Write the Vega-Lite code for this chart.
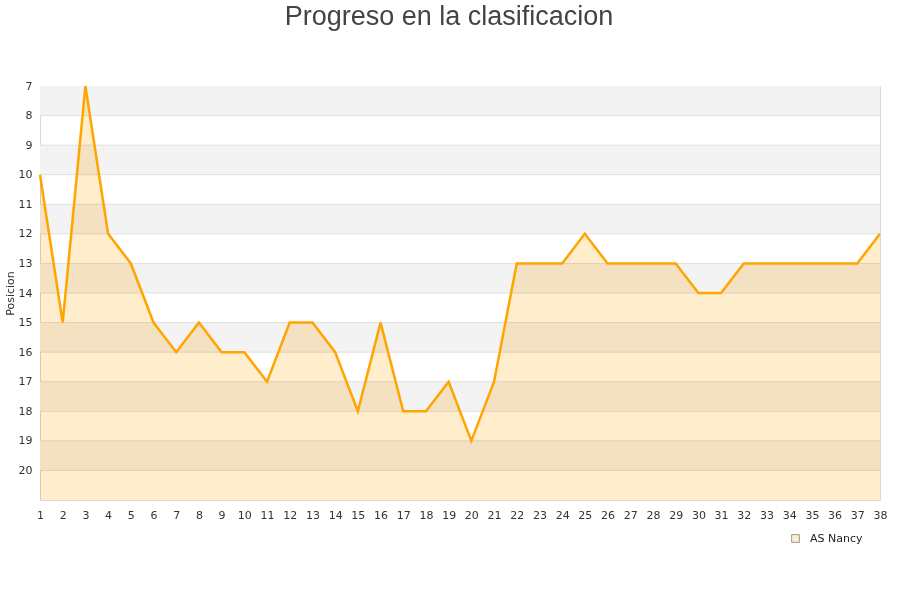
{
  "$schema": "https://vega.github.io/schema/vega-lite/v6.json",
  "width": 840,
  "height": 414,
  "autosize": "none",
  "padding": {"left": 40, "top": 86, "right": 20, "bottom": 100},
  "background": "white",
  "config": {
    "font": "DejaVu Sans",
    "view": {"stroke": "#d9d9d9", "strokeWidth": 1},
    "axis": {"labelColor": "#333333", "labelFontSize": 11, "titleColor": "#333333", "grid": false, "ticks": false, "domain": false, "labelOverlap": false, "labelFlush": false}
  },
  "title": {
    "text": "Progreso en la clasificacion",
    "font": "Liberation Sans",
    "fontSize": 27,
    "fontWeight": "normal",
    "color": "#444444",
    "anchor": "middle",
    "dx": -11,
    "offset": 49
  },
  "datasets": {
    "bands": [
      {"y0": 7, "y1": 8}, {"y0": 9, "y1": 10}, {"y0": 11, "y1": 12},
      {"y0": 13, "y1": 14}, {"y0": 15, "y1": 16}, {"y0": 17, "y1": 18},
      {"y0": 19, "y1": 20}
    ],
    "grid": [
      {"g": 8}, {"g": 9}, {"g": 10}, {"g": 11}, {"g": 12}, {"g": 13}, {"g": 14},
      {"g": 15}, {"g": 16}, {"g": 17}, {"g": 18}, {"g": 19}, {"g": 20}
    ],
    "pos": [
      {"jornada": 1, "posicion": 10, "equipo": "AS Nancy"},
      {"jornada": 2, "posicion": 15, "equipo": "AS Nancy"},
      {"jornada": 3, "posicion": 7, "equipo": "AS Nancy"},
      {"jornada": 4, "posicion": 12, "equipo": "AS Nancy"},
      {"jornada": 5, "posicion": 13, "equipo": "AS Nancy"},
      {"jornada": 6, "posicion": 15, "equipo": "AS Nancy"},
      {"jornada": 7, "posicion": 16, "equipo": "AS Nancy"},
      {"jornada": 8, "posicion": 15, "equipo": "AS Nancy"},
      {"jornada": 9, "posicion": 16, "equipo": "AS Nancy"},
      {"jornada": 10, "posicion": 16, "equipo": "AS Nancy"},
      {"jornada": 11, "posicion": 17, "equipo": "AS Nancy"},
      {"jornada": 12, "posicion": 15, "equipo": "AS Nancy"},
      {"jornada": 13, "posicion": 15, "equipo": "AS Nancy"},
      {"jornada": 14, "posicion": 16, "equipo": "AS Nancy"},
      {"jornada": 15, "posicion": 18, "equipo": "AS Nancy"},
      {"jornada": 16, "posicion": 15, "equipo": "AS Nancy"},
      {"jornada": 17, "posicion": 18, "equipo": "AS Nancy"},
      {"jornada": 18, "posicion": 18, "equipo": "AS Nancy"},
      {"jornada": 19, "posicion": 17, "equipo": "AS Nancy"},
      {"jornada": 20, "posicion": 19, "equipo": "AS Nancy"},
      {"jornada": 21, "posicion": 17, "equipo": "AS Nancy"},
      {"jornada": 22, "posicion": 13, "equipo": "AS Nancy"},
      {"jornada": 23, "posicion": 13, "equipo": "AS Nancy"},
      {"jornada": 24, "posicion": 13, "equipo": "AS Nancy"},
      {"jornada": 25, "posicion": 12, "equipo": "AS Nancy"},
      {"jornada": 26, "posicion": 13, "equipo": "AS Nancy"},
      {"jornada": 27, "posicion": 13, "equipo": "AS Nancy"},
      {"jornada": 28, "posicion": 13, "equipo": "AS Nancy"},
      {"jornada": 29, "posicion": 13, "equipo": "AS Nancy"},
      {"jornada": 30, "posicion": 14, "equipo": "AS Nancy"},
      {"jornada": 31, "posicion": 14, "equipo": "AS Nancy"},
      {"jornada": 32, "posicion": 13, "equipo": "AS Nancy"},
      {"jornada": 33, "posicion": 13, "equipo": "AS Nancy"},
      {"jornada": 34, "posicion": 13, "equipo": "AS Nancy"},
      {"jornada": 35, "posicion": 13, "equipo": "AS Nancy"},
      {"jornada": 36, "posicion": 13, "equipo": "AS Nancy"},
      {"jornada": 37, "posicion": 13, "equipo": "AS Nancy"},
      {"jornada": 38, "posicion": 12, "equipo": "AS Nancy"}
    ]
  },
  "layer": [
    {
      "data": {"name": "bands"},
      "mark": {"type": "rect", "fill": "#f3f3f3"},
      "encoding": {
        "y": {"field": "y0", "type": "quantitative", "scale": {"domain": [7, 21], "reverse": true, "nice": false, "zero": false},
          "axis": {"values": [7,8,9,10,11,12,13,14,15,16,17,18,19,20], "title": "Posicion", "titleFontSize": 11, "titleFontWeight": "normal", "titlePadding": 3, "labelPadding": 8}},
        "y2": {"field": "y1"}
      }
    },
    {
      "data": {"name": "grid"},
      "mark": {"type": "rule", "color": "#e0e0e0", "strokeWidth": 1},
      "encoding": {
        "y": {"field": "g", "type": "quantitative",
          "axis": {"values": [7,8,9,10,11,12,13,14,15,16,17,18,19,20], "title": "Posicion", "titleFontSize": 11, "titleFontWeight": "normal", "titlePadding": 3, "labelPadding": 8}}
      }
    },
    {
      "data": {"name": "pos"},
      "mark": {"type": "area", "orient": "vertical", "blend": "multiply", "opacity": 1},
      "encoding": {
        "x": {"field": "jornada", "type": "quantitative", "scale": {"domain": [1, 38], "nice": false, "zero": false},
          "axis": {"values": [1,2,3,4,5,6,7,8,9,10,11,12,13,14,15,16,17,18,19,20,21,22,23,24,25,26,27,28,29,30,31,32,33,34,35,36,37,38], "title": null, "labelPadding": 9}},
        "y": {"field": "posicion", "type": "quantitative",
          "axis": {"values": [7,8,9,10,11,12,13,14,15,16,17,18,19,20], "title": "Posicion", "titleFontSize": 11, "titleFontWeight": "normal", "titlePadding": 3, "labelPadding": 8}},
        "y2": {"datum": 21},
        "fill": {"field": "equipo", "type": "nominal", "scale": {"range": ["#ffedcc"]},
          "legend": {"title": null, "orient": "none", "legendX": 750, "legendY": 447, "symbolType": "square", "symbolSize": 60, "symbolStrokeColor": "#999999", "symbolStrokeWidth": 1, "symbolOpacity": 1, "labelFontSize": 11, "labelOffset": 9, "labelColor": "#222222"}}
      }
    },
    {
      "data": {"name": "pos"},
      "mark": {"type": "line", "color": "#ffa500", "strokeWidth": 2.5},
      "encoding": {
        "x": {"field": "jornada", "type": "quantitative",
          "axis": {"values": [1,2,3,4,5,6,7,8,9,10,11,12,13,14,15,16,17,18,19,20,21,22,23,24,25,26,27,28,29,30,31,32,33,34,35,36,37,38], "title": null, "labelPadding": 9}},
        "y": {"field": "posicion", "type": "quantitative",
          "axis": {"values": [7,8,9,10,11,12,13,14,15,16,17,18,19,20], "title": "Posicion", "titleFontSize": 11, "titleFontWeight": "normal", "titlePadding": 3, "labelPadding": 8}}
      }
    }
  ]
}
